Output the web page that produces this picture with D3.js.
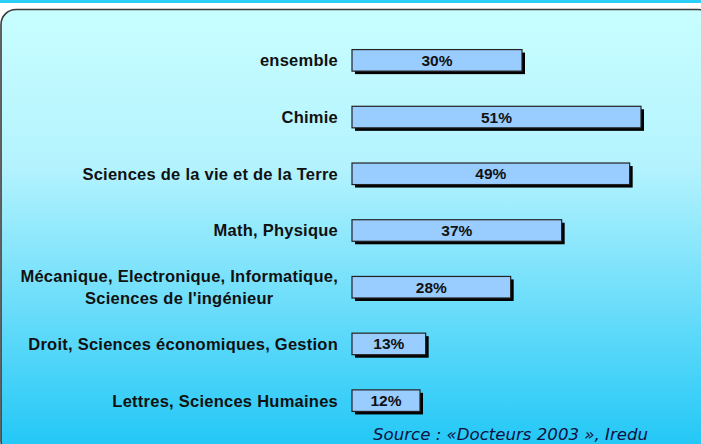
<!DOCTYPE html>
<html><head><meta charset="utf-8">
<script src="https://cdn.jsdelivr.net/npm/d3@7"></script>
<style>html,body{margin:0;padding:0;background:#fff;overflow:hidden}</style>
</head><body>
<svg id="c" width="701" height="444"></svg>
<script>
const categories = [
  ["ensemble"],
  ["Chimie"],
  ["Sciences de la vie et de la Terre"],
  ["Math, Physique"],
  ["Mécanique, Electronique, Informatique,", "Sciences de l'ingénieur"],
  ["Droit, Sciences économiques, Gestion"],
  ["Lettres, Sciences Humaines"]
];
const values = [30, 51, 49, 37, 28, 13, 12];
const sourceText = "Source : «Docteurs 2003 », Iredu";

const svg = d3.select("#c");
const defs = svg.append("defs");
const g = defs.append("linearGradient").attr("id","bg").attr("x1",0).attr("y1",0).attr("x2",0).attr("y2",1);
g.append("stop").attr("offset","0%").attr("stop-color","#c8feff");
g.append("stop").attr("offset","35%").attr("stop-color","#b4f3fe");
g.append("stop").attr("offset","100%").attr("stop-color","#1ec6f6");

svg.append("rect").attr("x",0).attr("y",0).attr("width",701).attr("height",3).attr("fill","#2ccdf6");
svg.append("rect").attr("x",1).attr("y",9.5).attr("width",712).attr("height",446)
  .attr("rx",15).attr("ry",15).attr("fill","url(#bg)").attr("stroke","#3a3a3a").attr("stroke-width",1.6);

const x = d3.scaleLinear().domain([0, 51]).range([352, 641]);
const y = d3.scaleBand().domain(d3.range(values.length)).range([32, 429]).paddingInner(0.62).paddingOuter(0.31);
const bh = y.bandwidth();

const font = "Liberation Sans, Arial, sans-serif";
const rows = svg.append("g").selectAll("g").data(values).join("g")
  .attr("transform",(d,i)=>`translate(0,${y(i)})`);

rows.append("rect").attr("x",x(0)+3).attr("y",3).attr("width",d=>x(d)-x(0)).attr("height",bh).attr("fill","#000");
rows.append("rect").attr("x",x(0)).attr("y",0).attr("width",d=>x(d)-x(0)).attr("height",bh)
  .attr("fill","#99ccff").attr("stroke","#222").attr("stroke-width",1.2);
rows.append("text").attr("x",d=>(x(0)+x(d))/2).attr("y",bh/2).attr("dy","0.36em")
  .attr("text-anchor","middle").attr("font-family",font)
  .attr("font-weight","bold").attr("font-size",15.5).attr("fill","#111")
  .text(d=>d+"%");

rows.each(function(d,i){
  const lines = categories[i];
  const t = d3.select(this).append("text").attr("font-family",font)
    .attr("font-weight","bold").attr("font-size",16.5).attr("letter-spacing",0.25)
    .attr("fill","#111").attr("text-anchor","end");
  if(lines.length===1){
    t.append("tspan").attr("x",338).attr("y",bh/2).attr("dy","0.36em").text(lines[0]);
  } else {
    const s1 = t.append("tspan").attr("x",338).attr("y",bh/2-11).attr("dy","0.36em").text(lines[0]);
    const w1 = s1.node().getComputedTextLength();
    const s2 = t.append("tspan").attr("y",bh/2+11).attr("dy","0.36em").text(lines[1]);
    const w2 = s2.node().getComputedTextLength();
    s2.attr("x", 338 - (w1 - w2)/2);
  }
});

svg.append("text").attr("x",373).attr("y",440).attr("font-family","DejaVu Sans, Verdana, sans-serif")
  .attr("font-style","italic").attr("font-size",16.6).attr("fill","#101040").text(sourceText);
</script>
</body></html>
